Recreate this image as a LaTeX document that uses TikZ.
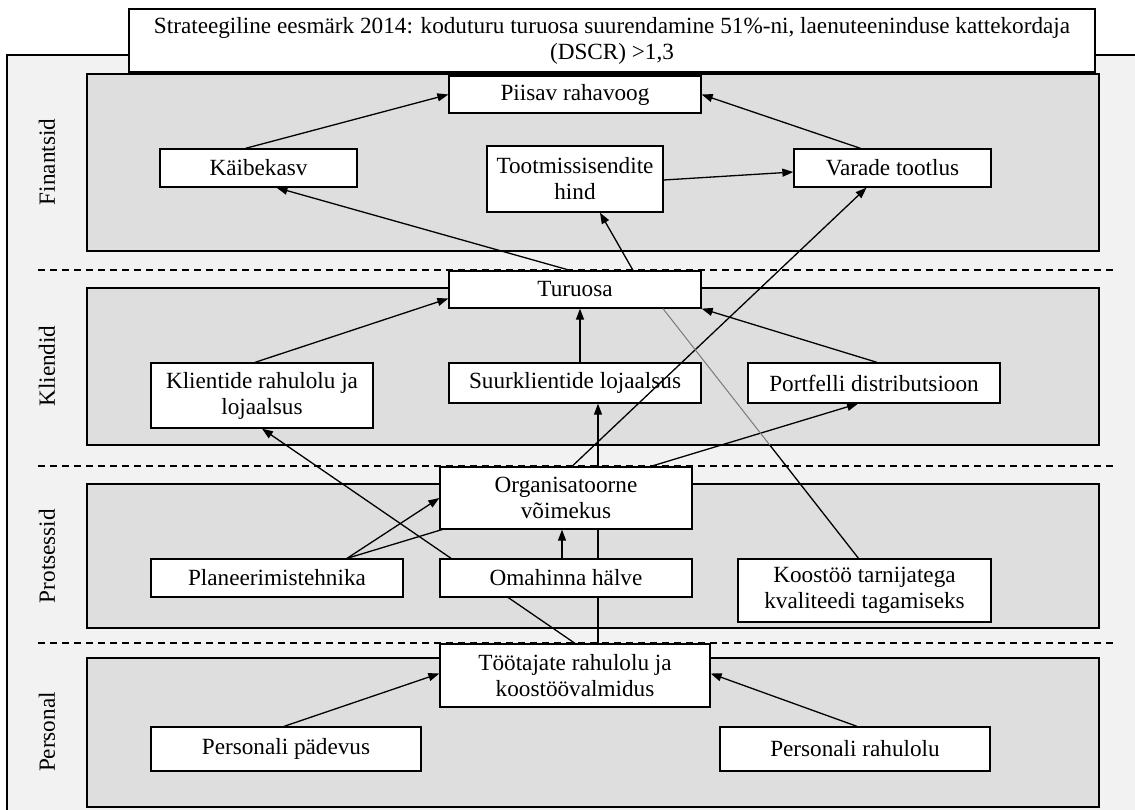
\documentclass[tikz,border=0pt]{standalone}
\usepackage{fontspec}
\setmainfont{Liberation Serif}
\usetikzlibrary{arrows.meta,calc}
\pgfdeclarelayer{back}
\pgfdeclarelayer{links}
\pgfsetlayers{back,links,main}
\definecolor{framebg}{HTML}{F2F2F2}
\definecolor{panelbg}{HTML}{DEDEDE}
\definecolor{thread}{HTML}{7A7A7A}
\begin{document}
\begin{tikzpicture}[x=1pt,y=-1pt,
  txt/.style={font=\fontsize{23.2}{26}\selectfont},
  box/.style={txt, draw, fill=white, line width=1.3pt, align=center, inner sep=0pt},
  panel/.style={draw, fill=panelbg, line width=1.3pt},
  sep/.style={line width=1.2pt, dash pattern=on 7pt off 5pt},
  link/.style={line width=1.3pt, -{Triangle[length=11pt,width=8pt]}},
  plain/.style={line width=1.3pt},
  lane/.style={txt, rotate=90}]
\clip (0,0) rectangle (1135,809);

% outer frame, perspective panels and separators
\begin{pgfonlayer}{back}
  \fill[white] (0,0) rectangle (1135,809);
  \draw[fill=framebg, line width=1.3pt] (7,55) rectangle (1160,830);
  \draw[panel] (87,74) rectangle (1099,251);
  \draw[panel] (87,288) rectangle (1099,445);
  \draw[panel] (87,484) rectangle (1099,628);
  \draw[panel] (87,658) rectangle (1099,807);
  \draw[sep] (38,270) -- (1115,270);
  \draw[sep] (38,466) -- (1115,466);
  \draw[sep] (38,643) -- (1115,643);
\end{pgfonlayer}

\node[lane] (lf) at (47,162) {Finantsid};
\node[lane] (lk) at (47,366) {Kliendid};
\node[lane] (lp) at (47,556) {Protsessid};
\node[lane] (lh) at (47,732) {Personal};

% goal
\node[box, minimum width=966pt, minimum height=63pt] (goal) at (612,40.5)
  {Strateegiline eesmärk 2014: koduturu turuosa suurendamine 51\%-ni, laenuteeninduse kattekordaja\\(DSCR) >1,3};

% financial perspective
\node[box, minimum width=252pt, minimum height=37pt] (piisav) at (575,94.5) {Piisav rahavoog};
\node[box, minimum width=197pt, minimum height=38pt] (kaibe) at (258.5,168) {Käibekasv};
\node[box, minimum width=176pt, minimum height=66pt] (tootm) at (575,179) {Tootmissisendite\\hind};
\node[box, minimum width=197pt, minimum height=38pt] (varade) at (892.5,168) {Varade tootlus};

% customer perspective
\node[box, minimum width=252pt, minimum height=37pt] (turuosa) at (575,289.5) {Turuosa};
\node[box, minimum width=222pt, minimum height=65pt] (klient) at (262,395.5) {Klientide rahulolu ja\\lojaalsus};
\node[box, minimum width=252pt, minimum height=40pt] (suurk) at (575,383) {Suurklientide lojaalsus};
\node[box, minimum width=252pt, minimum height=40pt] (portf) at (874,383) {Portfelli distributsioon};

% process perspective
\node[box, minimum width=252pt, minimum height=62pt] (organ) at (566,498) {Organisatoorne\\võimekus};
\node[box, minimum width=252pt, minimum height=38pt] (plan) at (277,578) {Planeerimistehnika};
\node[box, minimum width=252pt, minimum height=38pt] (omah) at (566,578) {Omahinna hälve};
\node[box, minimum width=253pt, minimum height=63pt] (koost) at (864.5,590.5) {Koostöö tarnijatega\\kvaliteedi tagamiseks};

% people perspective
\node[box, minimum width=270pt, minimum height=63pt] (tootaj) at (575,675.5) {Töötajate rahulolu ja\\koostöövalmidus};
\node[box, minimum width=270pt, minimum height=44pt] (ppad) at (286,749) {Personali pädevus};
\node[box, minimum width=270pt, minimum height=44pt] (prah) at (855,749) {Personali rahulolu};

% links running behind boxes
\begin{pgfonlayer}{links}
  \draw[link] ($(tootaj.north)+(23,0)$) -- ($(suurk.south)+(23,0)$);
  \draw[link] ($(plan.north)+(70,0)$) -- ($(portf.south)+(-16,0)$);
  \draw[link] (tootaj.north) -- (klient.south);
\end{pgfonlayer}

% links drawn over the panels
\draw[link] ($(kaibe.north)+(-13,0)$) -- (piisav.west);
\draw[link] ($(varade.north)+(-32,0)$) -- (piisav.east);
\draw[link] ($(tootm.east)+(0,1)$) -- ($(varade.west)+(0,4)$);
\draw[link] ($(turuosa.north)+(58,0)$) -- ($(tootm.south)+(25,0)$);
\draw[link] ($(turuosa.north)+(-5,0)$) -- ($(kaibe.south)+(18,0)$);
\draw[link] ($(klient.north)+(-7,0)$) -- ($(turuosa.west)+(0,9)$);
\draw[link] ($(suurk.north)+(5,0)$) -- ($(turuosa.south)+(5,0)$);
\draw[link] ($(portf.north)+(3,0)$) -- (turuosa.south east);
\draw[link] ($(omah.north)+(-4,0)$) -- ($(organ.south)+(-4,0)$);
\draw[link] ($(organ.north)+(6,0)$) -- ($(varade.south)+(-26,0)$);
\draw[link] ($(plan.north)+(70,0)$) -- (organ.west);
\draw[link] ($(ppad.north)+(-2,0)$) -- ($(tootaj.west)+(0,-2)$);
\draw[link] ($(prah.north)+(2,0)$) -- ($(tootaj.east)+(0,-2)$);

% supplier thread, grey inside the customer panel
\coordinate (ts) at ($(turuosa.south)+(88,0)$);
\coordinate (kn) at ($(koost.north)+(-6,0)$);
\coordinate (gk) at ($(ts)!0.546!(kn)$);
\draw[line width=1pt, thread] (ts) -- (gk);
\draw[plain] (gk) -- (kn);
\end{tikzpicture}
\end{document}
